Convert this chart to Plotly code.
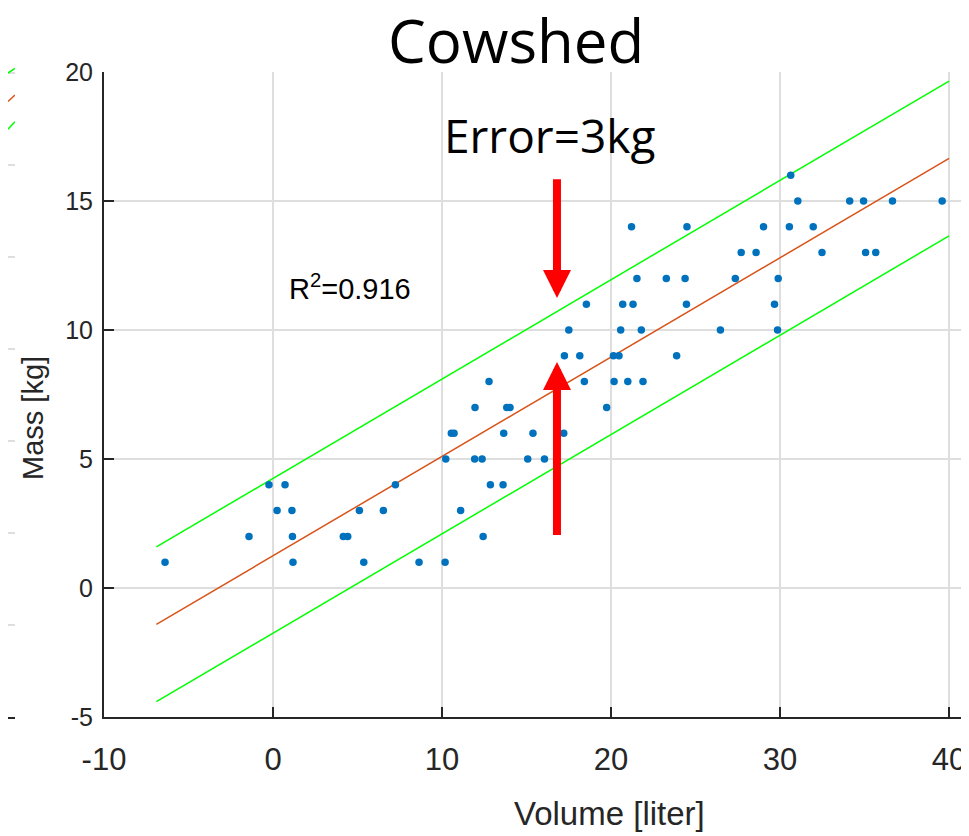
import plotly.graph_objects as go

# ---------------- data ----------------
volume = [-6.39, -1.42, -0.24, 0.24, 0.71, 1.12, 1.15, 1.18, 4.16, 4.42, 5.11, 5.37, 6.53, 7.24,
          8.64, 10.18, 10.22, 10.55, 10.71, 11.10, 11.93, 11.95, 12.37, 12.43, 12.78, 12.86,
          13.61, 13.65, 13.83, 14.02, 15.07, 15.38, 16.06, 17.20, 17.24, 17.50, 18.15, 18.42,
          18.54, 19.74, 20.14, 20.18, 20.47, 20.57, 20.69, 20.99, 21.21, 21.30, 21.53, 21.79,
          21.89, 23.27, 23.88, 24.38, 24.46, 24.49, 26.47, 27.35, 27.70, 28.58, 29.02, 29.67,
          29.85, 29.89, 30.55, 30.63, 31.05, 31.96, 32.48, 34.12, 34.94, 35.06, 35.66, 36.65,
          39.59]
mass = [1, 2, 4, 3, 4, 3, 2, 1, 2, 2, 3, 1, 3, 4,
        1, 1, 5, 6, 6, 3, 5, 7, 5, 2, 8, 4,
        4, 6, 7, 7, 5, 6, 5, 6, 9, 10, 9, 8,
        11, 7, 9, 8, 9, 10, 11, 8, 14, 11, 12, 10,
        8, 12, 9, 12, 11, 14, 10, 12, 13, 13, 14, 11,
        10, 12, 14, 16, 15, 14, 13, 15, 15, 13, 13, 15,
        15]

fit_x = [-6.9, 40.0]
fit_slope = 0.385
fit_intercept = 1.25
error_kg = 3
r_squared = "0.916"

x_ticks = [-10, 0, 10, 20, 30, 40]
y_ticks = [-5, 0, 5, 10, 15, 20]

arrow_x = 16.8
arrow_down = (15.9, 11.24)   # tail, tip
arrow_up = (2.0, 8.76)       # tail, tip

# neighbouring (cropped) panel on the left edge
nb_x = [-1.0, 0.0]
nb_upper = [7.00, 7.05]
nb_fit = [6.69, 6.76]
nb_lower = [6.39, 6.47]

# ---------------- figure ----------------
fit_y = [fit_intercept + fit_slope * v for v in fit_x]
up_y = [v + error_kg for v in fit_y]
lo_y = [v - error_kg for v in fit_y]

# the page body has an 8px margin, so the figure is drawn 8px smaller
OFF = 8
W, H = 969 - OFF, 836 - OFF
ML, MR, MT, MB = 0, 3, 62 - OFF, 119
PW = W - ML - MR
PH = H - MT - MB


def px(p):   # page x pixel -> paper fraction
    return (p - OFF) / PW


def py(p):   # page y pixel -> paper fraction
    return (717 - p) / PH


main_top = 645 / PH

arial = "Liberation Sans, Arial, Helvetica, sans-serif"
segoe = "Open Sans, Noto Sans, sans-serif"
grid_c = "#dedede"
axis_c = "#262626"

fig = go.Figure()
fig.add_trace(go.Scatter(x=fit_x, y=up_y, mode="lines", line=dict(color="#00ff00", width=1.5),
                         showlegend=False, hoverinfo="skip"))
fig.add_trace(go.Scatter(x=fit_x, y=lo_y, mode="lines", line=dict(color="#00ff00", width=1.5),
                         showlegend=False, hoverinfo="skip"))
fig.add_trace(go.Scatter(x=fit_x, y=fit_y, mode="lines", line=dict(color="#D95319", width=1.5),
                         showlegend=False, hoverinfo="skip"))
fig.add_trace(go.Scatter(x=volume, y=mass, mode="markers",
                         marker=dict(color="#0072BD", size=7.5, line=dict(width=0)),
                         showlegend=False))

# neighbour panel (only its right edge is visible)
for ys, col in [(nb_upper, "#00ff00"), (nb_lower, "#00ff00"), (nb_fit, "#D95319")]:
    fig.add_trace(go.Scatter(x=nb_x, y=ys, mode="lines", line=dict(color=col, width=1.5),
                             xaxis="x2", yaxis="y2", showlegend=False, hoverinfo="skip"))

annotations = [
    dict(text="Cowshed", xref="paper", yref="paper", x=px(516), y=py(40),
         xanchor="center", yanchor="middle", showarrow=False,
         font=dict(family=segoe, size=60, color="black")),
    dict(text="Error=3kg", xref="x", yref="y", x=16.33, y=17.56,
         xanchor="center", yanchor="middle", showarrow=False,
         font=dict(family=segoe, size=46, color="black")),
    dict(text="R<sup>2</sup>=" + r_squared, xref="x", yref="y", x=4.56, y=11.67,
         xanchor="center", yanchor="middle", showarrow=False,
         font=dict(family=arial, size=29, color="black")),
    dict(text="Mass [kg]", xref="paper", yref="paper", x=px(33), y=py(418),
         xanchor="center", yanchor="middle", showarrow=False, textangle=-90,
         font=dict(family=arial, size=29, color=axis_c)),
    dict(text="Volume [liter]", xref="paper", yref="paper", x=px(609), y=py(813),
         xanchor="center", yanchor="middle", showarrow=False,
         font=dict(family=arial, size=33, color=axis_c)),
]
for tail, tip in [arrow_down, arrow_up]:
    annotations.append(dict(text="", x=arrow_x, y=tip, ax=arrow_x, ay=tail,
                            xref="x", yref="y", axref="x", ayref="y",
                            showarrow=True, arrowhead=2, arrowsize=0.7, arrowwidth=8,
                            arrowcolor="red", standoff=0, startstandoff=0))

fig.update_layout(
    width=W, height=H,
    margin=dict(l=ML, r=MR, t=MT, b=MB, autoexpand=False),
    plot_bgcolor="white", paper_bgcolor="white",
    annotations=annotations,
    xaxis=dict(domain=[px(104), 1], range=[-10, 41], tickvals=x_ticks,
               ticktext=[str(v) for v in x_ticks], automargin=False,
               showgrid=True, gridcolor=grid_c, gridwidth=1.5, zeroline=False,
               showline=True, linecolor=axis_c, linewidth=2,
               ticks="inside", ticklen=10, tickwidth=1.5, tickcolor=axis_c,
               tickfont=dict(family=arial, size=31, color=axis_c),
               ticklabelstandoff=14, anchor="y"),
    yaxis=dict(domain=[0, main_top], range=[-5, 20], tickvals=y_ticks,
               ticktext=[str(v) for v in y_ticks], automargin=False,
               showgrid=True, gridcolor=grid_c, gridwidth=1.5, zeroline=False,
               showline=True, linecolor=axis_c, linewidth=2,
               ticks="inside", ticklen=10, tickwidth=1.5, tickcolor=axis_c,
               tickfont=dict(family=arial, size=25, color=axis_c),
               ticklabelstandoff=4, anchor="x"),
    xaxis2=dict(domain=[0, px(15)], range=[-1, 0], showgrid=False, zeroline=False,
                showticklabels=False, showline=True, linecolor=axis_c, linewidth=2,
                ticks="", anchor="y2", automargin=False),
    yaxis2=dict(domain=[0, 1], range=[0, PH / 92.0], dtick=1, showgrid=True,
                gridcolor=grid_c, gridwidth=1.5, zeroline=False, showticklabels=False,
                showline=False, ticks="", anchor="x2", automargin=False),
)

fig.write_html("out.html")
